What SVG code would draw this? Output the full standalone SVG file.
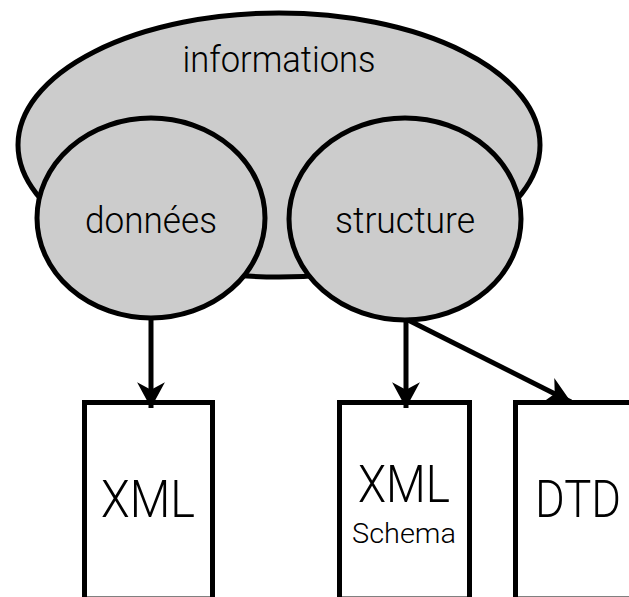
<svg xmlns="http://www.w3.org/2000/svg" width="629" height="597" viewBox="0 0 629 597">
  <defs>
    <style>
      .set { fill: #cccccc; stroke: #000000; stroke-width: 5; }
      .box { fill: #ffffff; stroke: #000000; stroke-width: 5; }
      .lbl { font-family: Roboto, "Liberation Sans", sans-serif; font-weight: 300; fill: #000000; text-anchor: middle; }
      .conn { fill: none; stroke: #000000; stroke-width: 5; }
    </style>
    <marker id="arrow" markerUnits="userSpaceOnUse" markerWidth="30" markerHeight="30" viewBox="-26 -14 28 28" refX="0" refY="0" orient="auto">
      <path d="M0,0 L-24,-13 L-17,0 L-24,13 Z" fill="#000000"/>
    </marker>
  </defs>
  <rect width="629" height="597" fill="#ffffff"/>
  <g id="informations">
    <ellipse class="set" cx="279" cy="145" rx="261" ry="132"/>
    <text class="lbl" x="279" y="72" font-size="37" textLength="193" lengthAdjust="spacingAndGlyphs">informations</text>
  </g>
  <g id="donnees">
    <ellipse class="set" cx="151" cy="218" rx="114" ry="100"/>
    <text class="lbl" x="151" y="233" font-size="37" textLength="132" lengthAdjust="spacingAndGlyphs">données</text>
  </g>
  <g id="structure">
    <ellipse class="set" cx="405" cy="219" rx="116" ry="101"/>
    <text class="lbl" x="405" y="233" font-size="37" textLength="140" lengthAdjust="spacingAndGlyphs">structure</text>
  </g>
  <g id="xml">
    <rect class="box" x="84.5" y="402.5" width="128" height="196.5"/>
    <text class="lbl" x="148" y="517" font-size="52" textLength="94" lengthAdjust="spacingAndGlyphs">XML</text>
  </g>
  <g id="xml-schema">
    <rect class="box" x="339.5" y="402.5" width="130" height="196.5"/>
    <text class="lbl" x="404" y="502" font-size="52" textLength="92" lengthAdjust="spacingAndGlyphs">XML</text>
    <text class="lbl" x="404" y="543" font-size="28" textLength="104" lengthAdjust="spacingAndGlyphs">Schema</text>
  </g>
  <g id="dtd">
    <rect class="box" x="515.5" y="402.5" width="130" height="196.5"/>
    <text class="lbl" x="578" y="517" font-size="52" textLength="86" lengthAdjust="spacingAndGlyphs">DTD</text>
  </g>
  <g id="connectors">
    <line class="conn" x1="151" y1="318" x2="151" y2="408" marker-end="url(#arrow)"/>
    <line class="conn" x1="406" y1="320" x2="406" y2="408" marker-end="url(#arrow)"/>
    <line class="conn" x1="408" y1="320" x2="571" y2="402" marker-end="url(#arrow)"/>
  </g>
</svg>
